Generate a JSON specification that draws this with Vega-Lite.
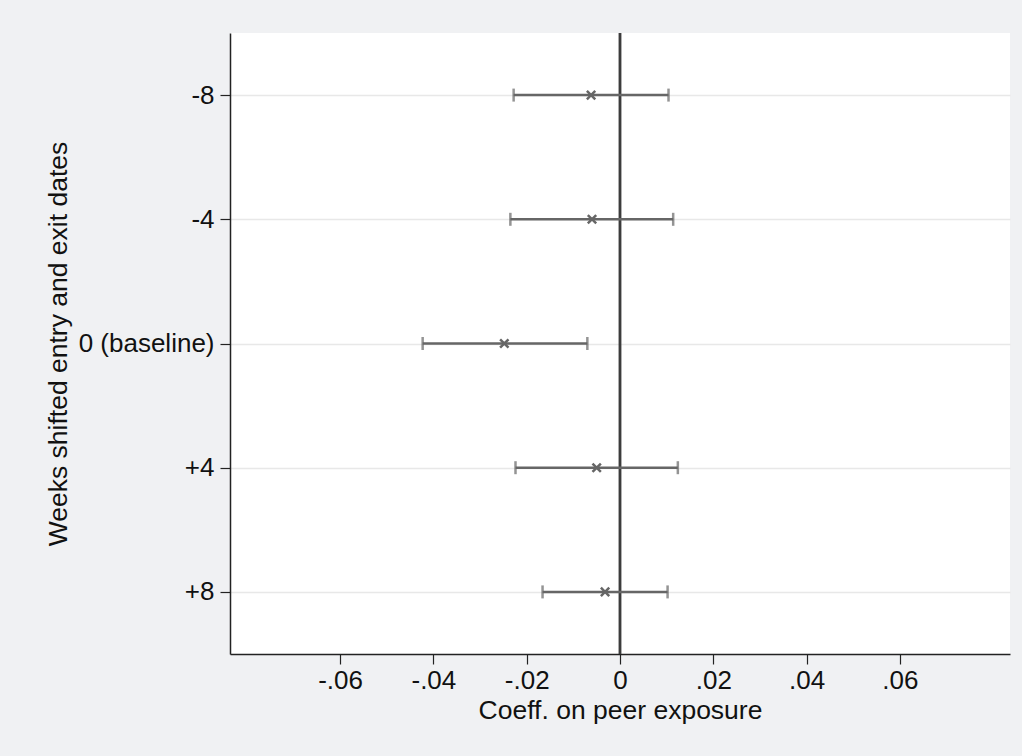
{
  "$schema": "https://vega.github.io/schema/vega-lite/v6.json",
  "autosize": "none",
  "width": 780,
  "height": 621,
  "padding": {"left": 230, "top": 33, "right": 12, "bottom": 102},
  "background": "#f0f1f3",
  "config": {
    "view": {"fill": "#ffffff", "stroke": null},
    "font": "Liberation Sans",
    "axis": {
      "labelFont": "Liberation Sans",
      "titleFont": "Liberation Sans",
      "labelColor": "#111111",
      "titleColor": "#111111",
      "titleFontWeight": "normal",
      "domainColor": "#222222",
      "domainWidth": 1.5,
      "tickColor": "#222222",
      "tickWidth": 1.2,
      "tickSize": 10
    }
  },
  "data": {
    "values": [
      {"week": "-8", "est": -0.0062, "lo": -0.0228, "hi": 0.0104},
      {"week": "-4", "est": -0.0060, "lo": -0.0235, "hi": 0.0114},
      {"week": "0 (baseline)", "est": -0.0248, "lo": -0.0423, "hi": -0.0070},
      {"week": "+4", "est": -0.0050, "lo": -0.0224, "hi": 0.0124},
      {"week": "+8", "est": -0.0032, "lo": -0.0166, "hi": 0.0102}
    ]
  },
  "encoding": {
    "y": {
      "field": "week",
      "type": "nominal",
      "sort": ["-8", "-4", "0 (baseline)", "+4", "+8"],
      "scale": {"type": "point", "padding": 0.5},
      "axis": {
        "title": "Weeks shifted entry and exit dates",
        "titleFontSize": 26.5,
        "labelFontSize": 26,
        "labelPadding": 6,
        "titlePadding": 6,
        "grid": true,
        "gridColor": "#e8e8e8",
        "gridWidth": 1.5
      }
    }
  },
  "layer": [
    {
      "mark": {"type": "rule", "color": "#3c3c3c", "strokeWidth": 2.2},
      "encoding": {
        "x": {"datum": 0, "type": "quantitative"},
        "y": null
      }
    },
    {
      "mark": {"type": "rule", "color": "#666666", "strokeWidth": 2.5},
      "encoding": {
        "x": {
          "field": "lo",
          "type": "quantitative",
          "scale": {"domain": [-0.0836, 0.0836], "nice": false, "zero": false},
          "axis": {
            "title": "Coeff. on peer exposure",
            "titleFontSize": 26.5,
            "labelFontSize": 26,
            "labelPadding": 3,
            "titlePadding": 4,
            "grid": false,
            "values": [-0.06, -0.04, -0.02, 0, 0.02, 0.04, 0.06],
            "labelExpr": "datum.value == 0 ? '0' : (datum.value < 0 ? '-' : '') + replace(format(abs(datum.value), '.2f'), '0.', '.')"
          }
        },
        "x2": {"field": "hi"}
      }
    },
    {
      "mark": {"type": "tick", "color": "#666666", "thickness": 2.5, "size": 13},
      "encoding": {"x": {"field": "lo", "type": "quantitative"}}
    },
    {
      "mark": {"type": "tick", "color": "#666666", "thickness": 2.5, "size": 13},
      "encoding": {"x": {"field": "hi", "type": "quantitative"}}
    },
    {
      "mark": {
        "type": "point",
        "shape": "M-1,-1L1,1M1,-1L-1,1",
        "filled": false,
        "color": "#666666",
        "strokeWidth": 2.5,
        "size": 70,
        "opacity": 1
      },
      "encoding": {"x": {"field": "est", "type": "quantitative"}}
    }
  ]
}
